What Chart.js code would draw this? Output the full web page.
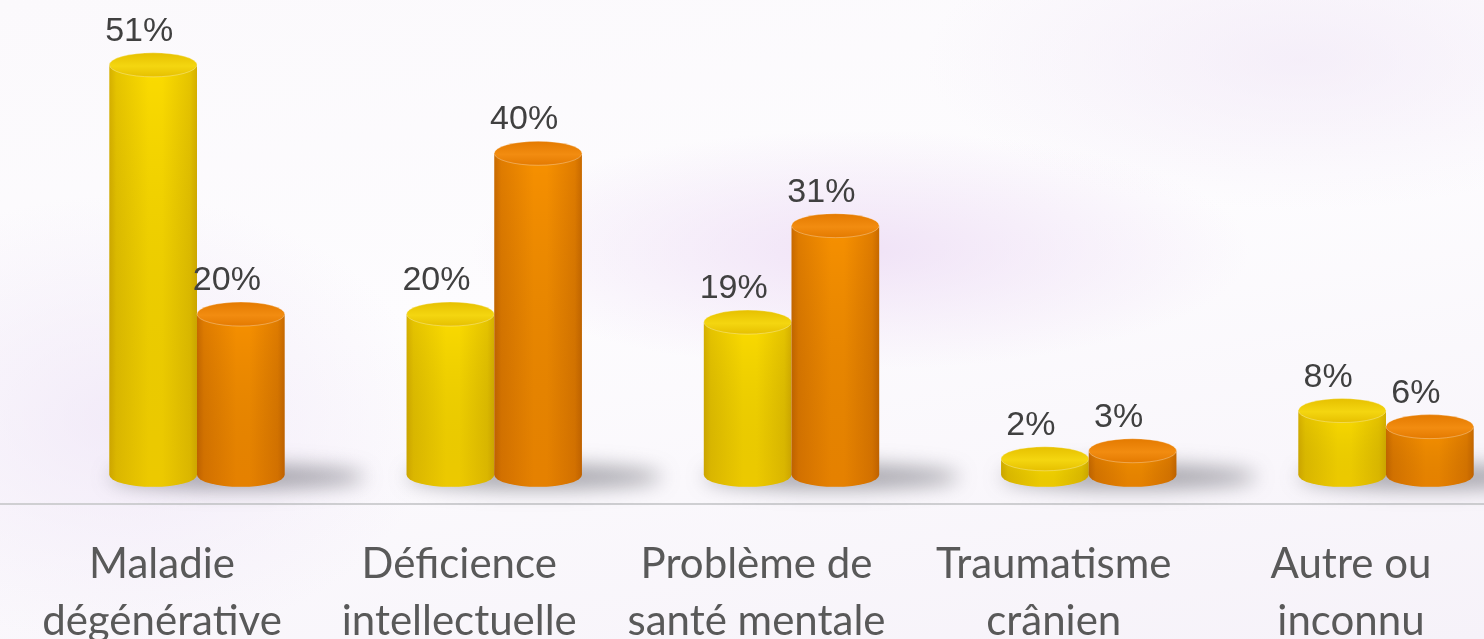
<!DOCTYPE html>
<html lang="fr">
<head>
<meta charset="utf-8">
<title>Causes</title>
<script src="https://cdn.jsdelivr.net/npm/chart.js@4/dist/chart.umd.min.js"></script>
<style>
  html, body { margin: 0; padding: 0; }
  body {
    width: 1484px;
    height: 639px;
    overflow: hidden;
    background:
      radial-gradient(ellipse 520px 160px at 860px 250px, rgba(236, 218, 244, 0.75), rgba(255, 255, 255, 0) 75%),
      radial-gradient(ellipse 420px 300px at 120px 420px, rgba(238, 228, 246, 0.7), rgba(255, 255, 255, 0) 75%),
      radial-gradient(ellipse 500px 200px at 1300px 60px, rgba(240, 230, 246, 0.6), rgba(255, 255, 255, 0) 75%),
      linear-gradient(170deg, #fbf9fc 0%, #fdfcfe 45%, #f6f2f9 100%);
  }
  #wrap { position: relative; width: 1484px; height: 639px; }
  canvas { display: block; }
</style>
</head>
<body>
<div id="wrap"><canvas id="chart" width="1484" height="639"></canvas></div>
<script>
const categories = [
  ['Maladie', 'dégénérative'],
  ['Déficience', 'intellectuelle'],
  ['Problème de', 'santé mentale'],
  ['Traumatisme', 'crânien'],
  ['Autre ou', 'inconnu']
];
const seriesA = [51, 20, 19, 2, 8];
const seriesB = [20, 40, 31, 3, 6];
const seriesNames = ['Série 1', 'Série 2'];

const palette = [
  { dark: '#d6b000', edge: '#e6c400', mid: '#fbdb00', top: '#e6c000', topLight: '#f4d610', shade: 'rgba(170,120,0,0.18)' },
  { dark: '#c96a00', edge: '#e07c00', mid: '#f79000', top: '#e47a00', topLight: '#f28c10', shade: 'rgba(150,60,0,0.18)' }
];

const RY = 12;

// draws the floor line, soft shadows and the cylinders over the library's bar geometry
const cylinderPlugin = {
  id: 'cylinders',
  beforeDatasetsDraw(chart) {
    const { ctx } = chart;
    const yScale = chart.scales.y;
    const floorY = yScale.getPixelForValue(yScale.min);

    ctx.save();
    ctx.strokeStyle = '#cfcfd2';
    ctx.lineWidth = 2;
    ctx.beginPath();
    ctx.moveTo(0, floorY + 1);
    ctx.lineTo(chart.width, floorY + 1);
    ctx.stroke();
    ctx.restore();

    // shadows behind each pair
    const m0 = chart.getDatasetMeta(0);
    const m1 = chart.getDatasetMeta(1);
    ctx.save();
    ctx.filter = 'blur(10px)';
    m0.data.forEach((bar, i) => {
      const b2 = m1.data[i];
      const left = bar.x - bar.width / 2;
      const right = b2.x + b2.width / 2 + 80;
      ctx.fillStyle = 'rgba(80, 80, 90, 0.5)';
      ctx.beginPath();
      ctx.ellipse((left + right) / 2, bar.base + 2, (right - left) / 2, 12, 0, 0, Math.PI * 2);
      ctx.fill();
    });
    ctx.restore();

    chart.data.datasets.forEach((ds, di) => {
      const meta = chart.getDatasetMeta(di);
      const c = palette[di];
      meta.data.forEach(bar => {
        const l = bar.x - bar.width / 2;
        const r = bar.x + bar.width / 2;
        const w = bar.width;
        const top = bar.y;
        const base = bar.base;
        const rx = w / 2;

        const g = ctx.createLinearGradient(l, 0, r, 0);
        g.addColorStop(0, c.dark);
        g.addColorStop(0.08, c.edge);
        g.addColorStop(0.45, c.mid);
        g.addColorStop(0.6, c.mid);
        g.addColorStop(0.92, c.edge);
        g.addColorStop(1, c.dark);

        ctx.save();
        ctx.beginPath();
        ctx.moveTo(l, top);
        ctx.lineTo(l, base);
        ctx.ellipse(bar.x, base, rx, RY, 0, Math.PI, 0, true);
        ctx.lineTo(r, top);
        ctx.closePath();
        ctx.fillStyle = g;
        ctx.fill();
        const vg = ctx.createLinearGradient(0, top, 0, base + RY);
        vg.addColorStop(0, 'rgba(0,0,0,0)');
        vg.addColorStop(1, c.shade);
        ctx.fillStyle = vg;
        ctx.fill();

        const tg = ctx.createLinearGradient(0, top - RY, 0, top + RY);
        tg.addColorStop(0, c.top);
        tg.addColorStop(0.55, c.topLight);
        tg.addColorStop(1, c.top);
        ctx.fillStyle = tg;
        ctx.beginPath();
        ctx.ellipse(bar.x, top, rx, RY, 0, 0, Math.PI * 2);
        ctx.fill();
        ctx.strokeStyle = 'rgba(255,255,255,0.3)';
        ctx.lineWidth = 1;
        ctx.stroke();
        ctx.restore();
      });
    });
  },
  afterDatasetsDraw(chart) {
    const { ctx } = chart;
    ctx.save();
    ctx.font = '34px "Liberation Sans", Arial, sans-serif';
    ctx.fillStyle = '#404040';
    ctx.textAlign = 'center';
    ctx.textBaseline = 'alphabetic';
    chart.data.datasets.forEach((ds, di) => {
      chart.getDatasetMeta(di).data.forEach((bar, i) => {
        ctx.fillText(ds.data[i] + '%', bar.x - 14, bar.y - 24);
      });
    });
    ctx.restore();
  }
};

new Chart(document.getElementById('chart'), {
  type: 'bar',
  data: {
    labels: categories,
    datasets: [
      { label: seriesNames[0], data: seriesA, backgroundColor: 'rgba(0,0,0,0)', borderWidth: 0, clip: false },
      { label: seriesNames[1], data: seriesB, backgroundColor: 'rgba(0,0,0,0)', borderWidth: 0, clip: false }
    ]
  },
  options: {
    responsive: false,
    animation: false,
    devicePixelRatio: 1,
    categoryPercentage: 0.59,
    barPercentage: 1,
    layout: { padding: { top: 15, left: 197, right: 98, bottom: 0 } },
    plugins: {
      legend: { display: false },
      tooltip: { enabled: false }
    },
    scales: {
      x: {
        offset: false,
        grid: { display: false, offset: false, drawTicks: false },
        border: { display: false },
        ticks: {
          color: '#595959',
          font: { family: 'Lato, "Open Sans", sans-serif', size: 42, lineHeight: 1.36 },
          padding: 33,
          labelOffset: -35,
          maxRotation: 0,
          autoSkip: false
        },
        afterFit(scale) {
          scale.height = 136;
          // layout padding already leaves room for the labels
          scale.paddingLeft = 0;
          scale.paddingRight = 0;
        }
      },
      y: {
        display: false,
        min: -3.5,
        max: 57.2
      }
    }
  },
  plugins: [cylinderPlugin]
});
</script>
</body>
</html>
